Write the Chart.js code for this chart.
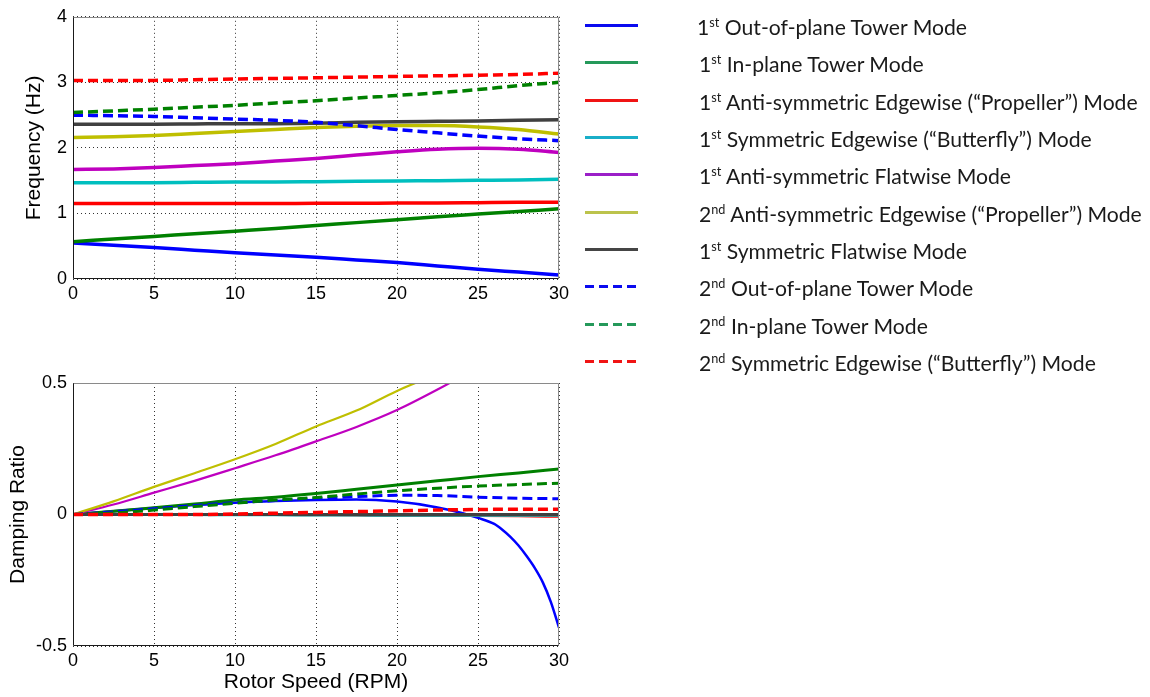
<!DOCTYPE html>
<html><head><meta charset="utf-8">
<script src="https://cdn.jsdelivr.net/npm/chart.js@4.4.0/dist/chart.umd.min.js"></script>
<style>
html,body{margin:0;padding:0;background:#fff;width:1150px;height:697px;overflow:hidden;}
#c1{position:absolute;left:0;top:0;width:580px;height:310px;}
#c2{position:absolute;left:0;top:360px;width:580px;height:337px;}
#legend{position:absolute;left:0;top:0;width:1150px;height:400px;font-family:Lato,'Open Sans',sans-serif;color:#1a1a1a;}
.row{position:absolute;white-space:nowrap;height:30px;line-height:30px;}
.row sup{font-size:0.6em;vertical-align:0.62em;line-height:0;}
svg{position:absolute;left:0;top:0;}
</style></head><body>
<canvas id="c1" width="580" height="310"></canvas>
<canvas id="c2" width="580" height="337"></canvas>
<div id="legend"></div>
<script>
// ---------- data ----------
const rpm = [0, 2.5, 5, 7.5, 10, 12.5, 15, 17.5, 20, 22.5, 25, 27.5, 30];

// Frequency (Hz)
const freqOOP1   = [0.55, 0.515, 0.48, 0.44, 0.40, 0.365, 0.33, 0.29, 0.25, 0.20, 0.15, 0.105, 0.06];
const freqIP1    = [0.57, 0.61, 0.65, 0.69, 0.73, 0.77, 0.815, 0.86, 0.905, 0.95, 0.99, 1.03, 1.07];
const freqProp1  = [1.15, 1.15, 1.15, 1.15, 1.15, 1.15, 1.155, 1.155, 1.16, 1.16, 1.165, 1.17, 1.17];
const freqBfly1  = [1.47, 1.47, 1.47, 1.475, 1.48, 1.48, 1.485, 1.49, 1.495, 1.50, 1.505, 1.51, 1.52];
const freqFlatA1 = [1.67, 1.68, 1.70, 1.73, 1.76, 1.80, 1.84, 1.89, 1.94, 1.98, 1.995, 1.98, 1.93];
const freqProp2  = [2.16, 2.17, 2.19, 2.22, 2.25, 2.28, 2.31, 2.33, 2.34, 2.34, 2.32, 2.28, 2.21];
const freqFlatS1 = [2.36, 2.36, 2.36, 2.365, 2.37, 2.37, 2.375, 2.39, 2.40, 2.405, 2.41, 2.42, 2.43];
const freqOOP2   = [2.50, 2.49, 2.48, 2.46, 2.44, 2.42, 2.39, 2.34, 2.28, 2.23, 2.18, 2.14, 2.11];
const freqIP2    = [2.54, 2.565, 2.59, 2.62, 2.65, 2.685, 2.72, 2.76, 2.80, 2.84, 2.89, 2.95, 3.00];
const freqBfly2  = [3.03, 3.03, 3.03, 3.04, 3.05, 3.06, 3.07, 3.08, 3.09, 3.10, 3.11, 3.12, 3.14];

// Damping ratio
const rpmOOP1Damp  = [0, 2.5, 5, 7.5, 10, 12.5, 15, 17.5, 20, 22.5, 24, 25, 26, 26.5, 27, 27.5, 28, 28.5, 29, 29.5, 30];
const dampOOP1     = [0, 0.012, 0.025, 0.036, 0.045, 0.051, 0.055, 0.057, 0.049, 0.027, 0.006, -0.013, -0.036, -0.058, -0.085, -0.118, -0.158, -0.203, -0.258, -0.333, -0.43];
const dampIP1      = [0, 0.012, 0.026, 0.040, 0.055, 0.066, 0.080, 0.096, 0.112, 0.128, 0.144, 0.158, 0.173];
const dampProp1    = [0, 0, 0, 0, 0, 0, -0.001, -0.002, -0.004, -0.004, -0.004, -0.005, -0.007];
const dampBfly1    = [0, 0, 0, 0, -0.001, -0.001, -0.002, -0.002, -0.003, -0.003, -0.003, -0.003, -0.003];
const rpmFlatA1Damp = [0, 2.5, 5, 7.5, 10, 12.5, 15, 17.5, 20, 22.5, 25];
const dampFlatA1   = [0, 0.038, 0.083, 0.128, 0.176, 0.225, 0.278, 0.333, 0.397, 0.475, 0.56];
const rpmProp2Damp = [0, 2.5, 5, 7.5, 10, 12.5, 15, 17.5, 20, 22.5];
const dampProp2    = [0, 0.05, 0.105, 0.157, 0.21, 0.268, 0.335, 0.395, 0.47, 0.535];
const dampFlatS1   = [0, 0, 0, 0, 0, 0, 0, 0, 0, 0, 0, 0, 0];
const dampOOP2     = [0, 0.010, 0.022, 0.034, 0.045, 0.053, 0.061, 0.068, 0.073, 0.072, 0.066, 0.062, 0.060];
const dampIP2      = [0, 0.006, 0.017, 0.030, 0.043, 0.055, 0.065, 0.078, 0.090, 0.100, 0.108, 0.114, 0.119];
const dampBfly2    = [0, 0, 0, 0, 0.002, 0.005, 0.008, 0.011, 0.014, 0.017, 0.019, 0.020, 0.020];

// Axis ticks
const xTicks = [0, 5, 10, 15, 20, 25, 30];
const freqTicks = [0, 1, 2, 3, 4];
const dampTicks = [-0.5, 0, 0.5];

// Legend
const legendOrd = ['1', '1', '1', '1', '1', '2', '1', '2', '2', '2'];
const legendSup = ['st', 'st', 'st', 'st', 'st', 'nd', 'st', 'nd', 'nd', 'nd'];
const legendNames = [
  'Out-of-plane Tower Mode',
  'In-plane Tower Mode',
  'Anti-symmetric Edgewise (\u201cPropeller\u201d) Mode',
  'Symmetric Edgewise (\u201cButterfly\u201d) Mode',
  'Anti-symmetric Flatwise Mode',
  'Anti-symmetric Edgewise (\u201cPropeller\u201d) Mode',
  'Symmetric Flatwise Mode',
  'Out-of-plane Tower Mode',
  'In-plane Tower Mode',
  'Symmetric Edgewise (\u201cButterfly\u201d) Mode'
];

// ---------- styles ----------
const plotColors = ['#0000ff', '#008000', '#ff0000', '#00bfbf', '#bf00bf', '#bfbf00', '#404040', '#0000ff', '#008000', '#ff0000'];
const legendColors = ['#0b0bef', '#25995a', '#f01414', '#19aec8', '#9b1fc8', '#bcc34c', '#454545', '#0b0bef', '#25995a', '#f01414'];
const dashed = [false, false, false, false, false, false, false, true, true, true];
const DASH = [10, 5];

const pts = (xs, ys) => xs.map((x, i) => ({x: x, y: ys[i]}));

const freqSeries = [
  pts(rpm, freqOOP1), pts(rpm, freqIP1), pts(rpm, freqProp1), pts(rpm, freqBfly1), pts(rpm, freqFlatA1),
  pts(rpm, freqProp2), pts(rpm, freqFlatS1), pts(rpm, freqOOP2), pts(rpm, freqIP2), pts(rpm, freqBfly2)
];
const dampSeries = [
  pts(rpmOOP1Damp, dampOOP1), pts(rpm, dampIP1), pts(rpm, dampProp1), pts(rpm, dampBfly1), pts(rpmFlatA1Damp, dampFlatA1),
  pts(rpmProp2Damp, dampProp2), pts(rpm, dampFlatS1), pts(rpm, dampOOP2), pts(rpm, dampIP2), pts(rpm, dampBfly2)
];
const topWidths = [3.5, 3.5, 3.5, 3.5, 3.5, 3.5, 3.5, 3.5, 3.5, 3.5];
const botWidths = [2.5, 3, 3, 3, 2.2, 2.2, 3, 3, 3, 3.5];

function buildDatasets(series, widths) {
  return series.map((d, i) => ({
    label: legendOrd[i] + legendSup[i] + ' ' + legendNames[i],
    data: d,
    borderColor: plotColors[i],
    backgroundColor: plotColors[i],
    borderWidth: widths[i],
    borderDash: dashed[i] ? DASH : [],
    pointRadius: 0,
    fill: false,
    cubicInterpolationMode: 'monotone',
    order: series.length - i
  }));
}

const frame = {
  id: 'frame',
  afterDatasetsDraw(chart) {
    const {ctx, chartArea: a} = chart;
    const L = Math.round(a.left) + 0.5, R = Math.round(a.right) - 0.5;
    const T = Math.round(a.top) + 0.5, B = Math.round(a.bottom) - 0.5;
    ctx.save();
    ctx.lineWidth = 1;
    ctx.setLineDash([]);
    ctx.strokeStyle = '#8a8a8a';
    ctx.beginPath(); ctx.moveTo(L, T); ctx.lineTo(R, T); ctx.lineTo(R, B); ctx.stroke();
    ctx.strokeStyle = '#1a1a1a';
    ctx.beginPath(); ctx.moveTo(L, T); ctx.lineTo(L, B); ctx.lineTo(R, B); ctx.stroke();
    ctx.restore();
  }
};

const tickFont = {family: "'Liberation Sans', Arial, sans-serif", size: 18};
const titleFont = {family: "'Liberation Sans', Arial, sans-serif", size: 21};

function makeChart(id, datasets, yMin, yMax, yTickVals, yTitle, yTitlePad, padTop, xTitle, xHeight) {
  return new Chart(document.getElementById(id), {
    type: 'line',
    data: {datasets: datasets},
    plugins: [frame],
    options: {
      responsive: false,
      devicePixelRatio: 1,
      animation: false,
      events: [],
      layout: {padding: {top: padTop, right: 21, left: 0, bottom: 0}},
      plugins: {legend: {display: false}, tooltip: {enabled: false}},
      scales: {
        x: {
          type: 'linear', min: 0, max: 30,
          afterBuildTicks: s => { s.ticks = xTicks.map(v => ({value: v})); },
          afterFit: s => { s.height = xHeight; },
          ticks: {color: '#000', font: tickFont, padding: 4, maxRotation: 0, autoSkip: false},
          grid: {color: '#333', lineWidth: 1, drawTicks: false},
          border: {display: false, dash: [1, 3]},
          title: xTitle ? {display: true, text: xTitle, color: '#000', font: titleFont, padding: {top: 0, bottom: 2}} : {display: false}
        },
        y: {
          type: 'linear', min: yMin, max: yMax,
          afterBuildTicks: s => { s.ticks = yTickVals.map(v => ({value: v})); },
          afterFit: s => { s.width = 73; },
          ticks: {color: '#000', font: tickFont, padding: 6, autoSkip: false},
          grid: {color: '#333', lineWidth: 1, drawTicks: false},
          border: {display: false, dash: [1, 3]},
          title: {display: true, text: yTitle, color: '#000', font: titleFont, padding: {top: yTitlePad, bottom: 0}}
        }
      }
    }
  });
}

makeChart('c1', buildDatasets(freqSeries, topWidths), 0, 4, freqTicks, 'Frequency (Hz)', 22, 16, null, 31);
makeChart('c2', buildDatasets(dampSeries, botWidths), -0.5, 0.5, dampTicks, 'Damping Ratio', 6, 23, 'Rotor Speed (RPM)', 51);

// ---------- legend (HTML) ----------
const legend = document.getElementById('legend');
const NS = 'http://www.w3.org/2000/svg';
const svg = document.createElementNS(NS, 'svg');
svg.setAttribute('width', '1150'); svg.setAttribute('height', '400');
legend.appendChild(svg);
const rowY0 = 25, rowStep = 37.33;
const rows = [];
legendNames.forEach((name, i) => {
  const y = Math.round(rowY0 + i * rowStep) + 0.5;
  const ln = document.createElementNS(NS, 'line');
  ln.setAttribute('x1', 585); ln.setAttribute('x2', 638);
  ln.setAttribute('y1', y); ln.setAttribute('y2', y);
  ln.setAttribute('stroke', legendColors[i]);
  ln.setAttribute('stroke-width', 3);
  if (dashed[i]) ln.setAttribute('stroke-dasharray', '9 5');
  svg.appendChild(ln);
  const div = document.createElement('div');
  div.className = 'row';
  div.style.left = (i === 0 ? 697 : 699) + 'px';
  div.style.top = (y - 15 + 1) + 'px';
  div.innerHTML = legendOrd[i] + '<sup>' + legendSup[i] + '</sup> ' + name;
  legend.appendChild(div);
  rows.push(div);
});
// fit font size so the longest row matches the reference width (~443px)
legend.style.fontSize = '20px';
const w = rows[5].getBoundingClientRect().width;
legend.style.fontSize = (20 * 443 / w).toFixed(2) + 'px';
</script>
</body></html>
